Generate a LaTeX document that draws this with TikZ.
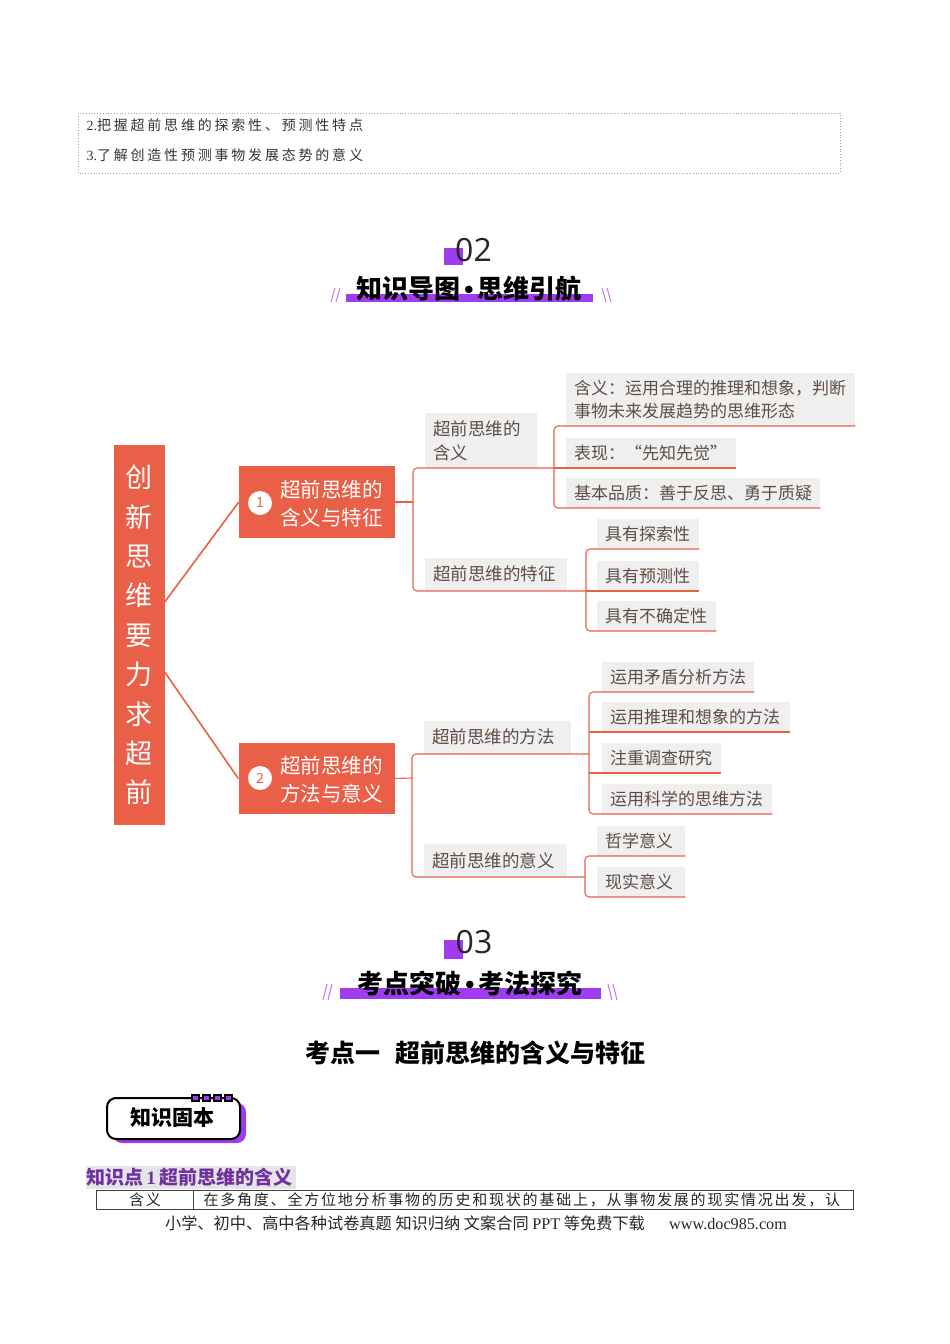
\documentclass[tikz,border=0pt]{standalone}
\usepackage{fontspec}
\setmainfont{Noto Sans CJK SC}
\newfontfamily\songti{Noto Sans CJK SC}[LetterSpace=20]
\newfontfamily\songtab{Noto Sans CJK SC}[LetterSpace=12]
\newfontfamily\timesf{Liberation Serif}
\newfontfamily\lsans{Liberation Sans}
\newfontfamily\numf{Open Sans}
\usetikzlibrary{calc}

\definecolor{mapred}{HTML}{E95F48}
\definecolor{leafgray}{HTML}{F0EFEF}
\definecolor{leaftext}{HTML}{5E4E45}
\definecolor{vpurple}{HTML}{A03CF0}
\definecolor{kpurple}{HTML}{7030A0}
\definecolor{boxline}{HTML}{A898BC}
\definecolor{hlgray}{HTML}{E6E5E5}

\begin{document}
\begin{tikzpicture}[x=1pt, y=-1pt,
    link/.style={draw=mapred, line width=1.1pt},
    rootlink/.style={draw=mapred, line width=1.6pt},
    topic/.style={fill=mapred, minimum width=156pt, minimum height=72pt, inner sep=0pt},
    topictext/.style={text=white, align=left, inner sep=0pt, font=\fontsize{20.5}{28}\selectfont},
    num/.style={circle, fill=white, text=mapred, minimum size=24pt, inner sep=0pt, font=\fontsize{14}{14}\selectfont},
    sub/.style={fill=leafgray, text=leaftext, anchor=south west, inner xsep=8pt, inner ysep=0pt, align=left, minimum height=33pt, font=\fontsize{17.5}{24}\selectfont},
    leaf/.style={fill=leafgray, text=leaftext, anchor=south west, inner xsep=8pt, inner ysep=0pt, align=left, minimum height=30pt, font=\fontsize{17}{23}\selectfont},
    heading/.style={font=\bfseries\fontsize{26}{26}\selectfont}]

    \useasboundingbox (0,0) rectangle (950,1344);

    % Goals
    \draw[boxline, dotted, line width=0.8pt] (78,113) rectangle (840,173);
    \node[anchor=west, text=black!80, font=\songti\fontsize{14}{14}\selectfont] (goal2) at (83,125) {{\timesf 2.}把握超前思维的探索性、预测性特点};
    \node[anchor=west, text=black!80, font=\songti\fontsize{14}{14}\selectfont] (goal3) at (83,155) {{\timesf 3.}了解创造性预测事物发展态势的意义};

    % Heading 02
    \fill[vpurple] (444,248) rectangle (463,265);
    \node[text=black!85, font=\numf\fontsize{32}{32}\selectfont] (no2) at (473.5,250) {02};
    \fill[vpurple] (346,294) rectangle (593,302);
    \node[heading] (head2) at (469,289) {知识导图{\lsans\bfseries\,•\,}思维引航};
    \draw[vpurple!70, line width=1pt] (331,302) -- (335,288) (336,302) -- (340,288);
    \draw[vpurple!70, line width=1pt] (602,288) -- (606,302) (607,288) -- (611,302);

    % Root and topics
    \node[fill=mapred, text=white, minimum width=51pt, minimum height=380pt, inner sep=0pt, align=center,
          font=\fontsize{27}{39.4}\selectfont] (root) at (139,635) {创\\新\\思\\维\\要\\力\\求\\超\\前};
    \node[topic] (t1) at (317,502) {};
    \node[num] (n1) at (260,503) {1};
    \node[topictext, anchor=west] (t1txt) at (280,504) {超前思维的\\含义与特征};
    \node[topic, minimum height=71pt] (t2) at (316.5,778.5) {};
    \node[num] (n2) at (260,778) {2};
    \node[topictext, anchor=west] (t2txt) at (280,780) {超前思维的\\方法与意义};
    \draw[rootlink] ([yshift=33pt]root.east) -- (t1.west);
    \draw[rootlink] ([yshift=-37pt]root.east) -- (t2.west);

    % Meaning and features
    \node[sub, text width=96pt, minimum height=55pt] (s1) at (425,468) {超前思维的\\含义};
    \node[sub, text width=126pt] (s2) at (425,591) {超前思维的特征};
    \node[leaf, text width=273pt, minimum height=53pt] (m1) at (566,426) {含义：运用合理的推理和想象，判断\\事物未来发展趋势的思维形态};
    \node[leaf, text width=154pt] (m2) at (566,468) {表现：“先知先觉”};
    \node[leaf, text width=238pt] (m3) at (566,508) {基本品质：善于反思、勇于质疑};
    \node[leaf, text width=86pt] (f1) at (597,549) {具有探索性};
    \node[leaf, text width=86pt] (f2) at (597,591) {具有预测性};
    \node[leaf, text width=103pt] (f3) at (597,631) {具有不确定性};

    \coordinate (j1) at (413,502);
    \coordinate (k1) at (554,468);
    \coordinate (k2) at (586,591);
    \draw[link] (t1.east) -- (j1);
    \draw[link, rounded corners=4pt] (k1 |- s1.south) -- (j1 |- s1.south) -- (j1 |- s2.south) -- (k2 |- s2.south);
    \draw[link, rounded corners=4pt] (m1.south east) -- (k1 |- m1.south) -- (k1 |- m3.south) -- (m3.south east);
    \draw[link] (k1 |- m2.south) -- (m2.south east);
    \draw[link, rounded corners=4pt] (f1.south east) -- (k2 |- f1.south) -- (k2 |- f3.south) -- (f3.south east);
    \draw[link] (k2 |- f2.south) -- (f2.south east);

    % Methods and significance
    \node[sub, text width=131pt] (s3) at (424,754) {超前思维的方法};
    \node[sub, text width=127pt] (s4) at (424,877) {超前思维的意义};
    \node[leaf, text width=136pt] (p1) at (602,692) {运用矛盾分析方法};
    \node[leaf, text width=172pt] (p2) at (602,732) {运用推理和想象的方法};
    \node[leaf, text width=103pt] (p3) at (602,773) {注重调查研究};
    \node[leaf, text width=154pt] (p4) at (602,814) {运用科学的思维方法};
    \node[leaf, text width=72pt] (q1) at (597,856) {哲学意义};
    \node[leaf, text width=72pt] (q2) at (597,897) {现实意义};

    \coordinate (j2) at (412,778);
    \coordinate (k3) at (589,754);
    \coordinate (k4) at (585,877);
    \draw[link] (t2.east) -- (j2);
    \draw[link, rounded corners=4pt] (k3 |- s3.south) -- (j2 |- s3.south) -- (j2 |- s4.south) -- (k4 |- s4.south);
    \draw[link, rounded corners=4pt] (p1.south east) -- (k3 |- p1.south) -- (k3 |- p4.south) -- (p4.south east);
    \foreach \p in {p2,p3}
        \draw[link] (k3 |- \p.south) -- (\p.south east);
    \draw[link, rounded corners=4pt] (q1.south east) -- (k4 |- q1.south) -- (k4 |- q2.south) -- (q2.south east);

    % Heading 03
    \fill[vpurple] (444,940) rectangle (463,959);
    \node[text=black!85, font=\numf\fontsize{32}{32}\selectfont] (no3) at (474,942) {03};
    \fill[vpurple] (340,988) rectangle (601,999);
    \node[heading] (head3) at (470,983) {考点突破{\lsans\bfseries\,•\,}考法探究};
    \draw[vpurple!70, line width=1pt] (323,1000) -- (327,984) (328,1000) -- (332,984);
    \draw[vpurple!70, line width=1pt] (608,984) -- (612,1000) (613,984) -- (617,1000);

    \node[font=\bfseries\fontsize{25}{25}\selectfont] (kd1) at (475,1053) {考点一\hspace{0.6em}超前思维的含义与特征};

    % Badge
    \fill[vpurple, rounded corners=9pt] (113,1103) rectangle (246,1143);
    \draw[line width=2pt, fill=white, rounded corners=9pt] (107,1098) rectangle (240,1139);
    \foreach \i in {0,1,2,3}
        \draw[line width=1.3pt, fill=vpurple] (192+\i*11,1095) rectangle ++(7,6);
    \node[font=\bfseries\fontsize{21}{21}\selectfont] (badge) at (172,1118) {知识固本};

    % Knowledge point and table
    \fill[hlgray] (86,1166) rectangle (296,1189);
    \node[anchor=west, inner sep=0pt, text=kpurple, font=\bfseries\fontsize{19}{19}\selectfont] (kp1) at (86,1177.5) {知识点{\timesf\bfseries\,1\,}超前思维的含义};
    \draw[line width=0.8pt, black!75] (96,1190) rectangle (853,1209);
    \draw[line width=0.8pt, black!75] (193,1190) -- (193,1209);
    \node[text=black!85, font=\songtab\fontsize{15}{15}\selectfont] (hanyi) at (145,1200) {含义};
    \node[anchor=west, text=black!85, font=\songtab\fontsize{15}{15}\selectfont] (def) at (200,1200) {在多角度、全方位地分析事物的历史和现状的基础上，从事物发展的现实情况出发，认};

    % Footer
    \node[text=black!85, font=\fontsize{16.2}{16.2}\selectfont] (foot) at (476,1223) {小学、初中、高中各种试卷真题 知识归纳 文案合同 {\timesf PPT} 等免费下载\hspace{1.5em}{\timesf www.doc985.com}};

\end{tikzpicture}
\end{document}
